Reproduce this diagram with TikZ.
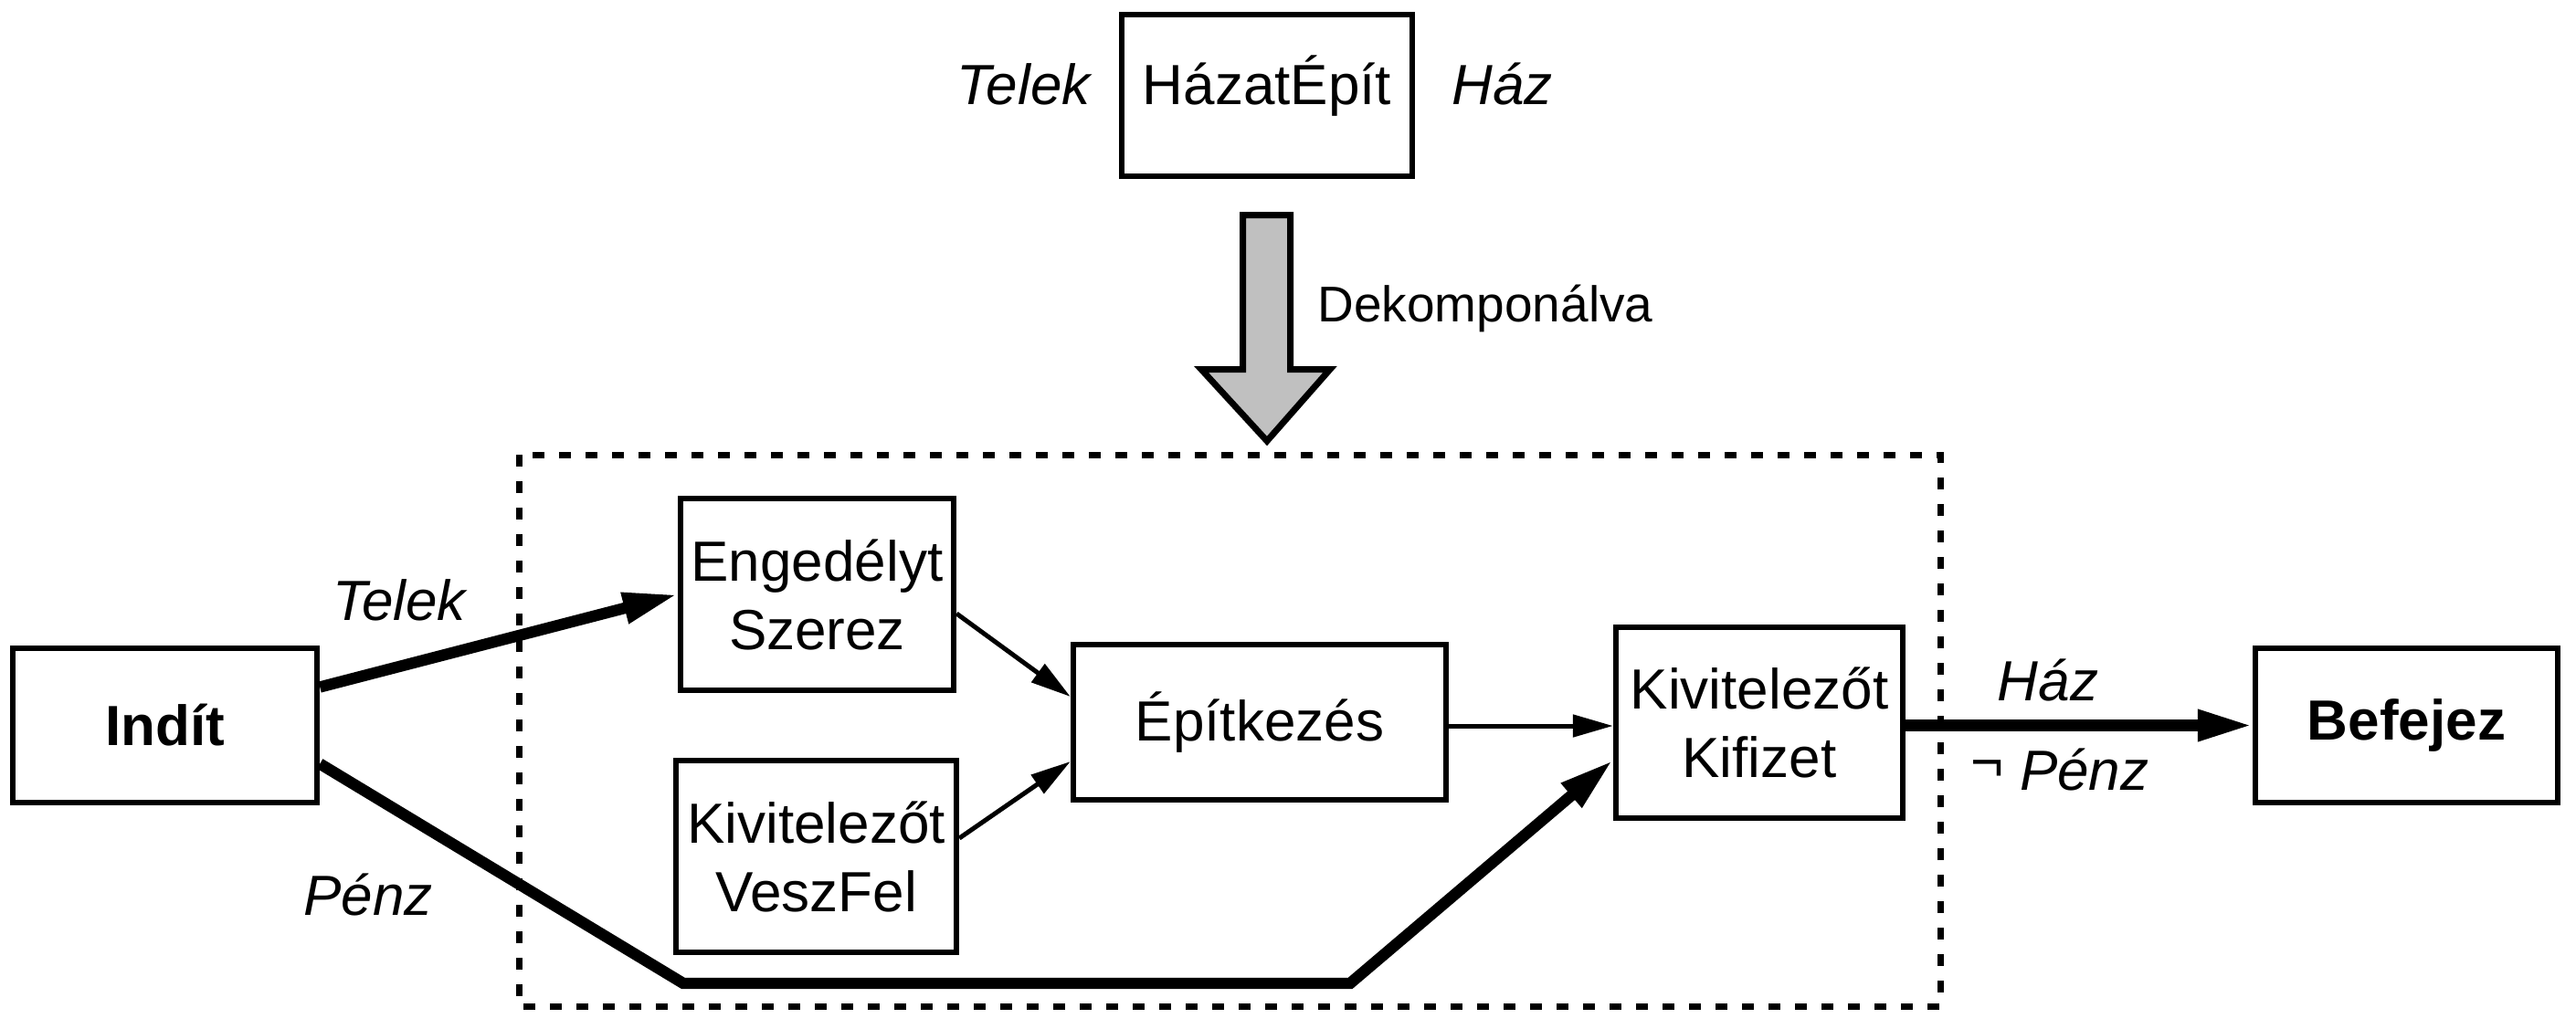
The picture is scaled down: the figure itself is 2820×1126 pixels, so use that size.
\documentclass[tikz,border=0pt]{standalone}
\usepackage{fontspec}
\setmainfont{Liberation Sans}
\usetikzlibrary{arrows.meta,calc}

\newcommand\diagfont{\fontsize{15.5}{18.75}\selectfont}
\definecolor{decompgray}{RGB}{192,192,192}

\tikzset{every picture/.style={line width=1.25pt}}
\tikzset{
  procbox/.style={draw, line width=1.6pt, inner sep=0pt, align=center, font=\diagfont},
  thinflow/.style={line width=1.25pt, -{Triangle[length=11pt,width=6pt]}},
  thickflow/.style={line width=3.1pt, -{Triangle[length=15pt,width=8pt]}},
  flowlabel/.style={font=\diagfont\itshape, anchor=base, inner sep=0pt},
}

\begin{document}
\begin{tikzpicture}[x=0.25pt,y=0.25pt,yscale=-1,xscale=1]
\useasboundingbox (0,0) rectangle (2820,1126);

%Shape: Top task
\node[procbox, minimum width=79.5pt, text height=24.5pt, text depth=19.75pt, anchor=base] (hazatepit) at (1387,114) {HázatÉpít};
% Text Node
\node[flowlabel, anchor=base east] (telekin) at (1196,114) {Telek};
% Text Node
\node[flowlabel, anchor=base west] (hazout) at (1587,114) {Ház};

%Shape: Decomposition arrow
\draw[line width=1.75pt, fill=decompgray] (1360.5,235.5) -- (1412.5,235.5) -- (1412.5,404.5) -- (1456,404.5) -- (1387,483) -- (1315,404.5) -- (1360.5,404.5) -- cycle;
% Text Node
\node[anchor=base west, inner sep=0pt, font=\fontsize{13.75}{16.5}\selectfont] (dekomp) at (1440,352) {Dekomponálva};

%Shape: Dashed frame
\draw[line width=1.75pt, dash pattern=on 3.25pt off 4pt] (568,498) rectangle (2124,1102);

%Shape: Steps
\node[procbox, font=\diagfont\bfseries, minimum width=83.25pt, minimum height=42.25pt] (indit) at (180.5,794.5) {Indít};
\node[procbox, minimum width=74.75pt, minimum height=52.5pt] (engedely) at (894.5,651) {Engedélyt\\Szerez};
\node[procbox, minimum width=76.75pt, minimum height=52.5pt] (veszfel) at (893.5,938) {Kivitelezőt\\VeszFel};
\node[procbox, minimum width=102pt, minimum height=42.5pt] (epit) at (1379,791) {Építkezés};
\node[procbox, minimum width=78.5pt, minimum height=52.25pt] (kifizet) at (1926,791.5) {Kivitelezőt\\Kifizet};
\node[procbox, font=\diagfont\bfseries, minimum width=82.75pt, minimum height=42.25pt] (befejez) at (2634.5,794.5) {Befejez};

%Lines
\coordinate (penzA) at (748,1077);
\coordinate (penzB) at (1478,1077);
\draw[thickflow] ($(indit.east)+(0,-42)$) -- (engedely.west);
\draw[thickflow] ($(indit.east)+(0,42)$) -- (penzA) -- (penzB) -- ($(kifizet.west)+(0,41)$);
\draw[thinflow] ($(engedely.east)+(0,21)$) -- ($(epit.west)+(0,-28)$);
\draw[thinflow] ($(veszfel.east)+(0,-20)$) -- ($(epit.west)+(0,43)$);
\draw[thinflow] ($(epit.east)+(0,4)$) -- ($(epit.east -| kifizet.west)+(0,4)$);
\draw[thickflow] (befejez.west -| kifizet.east) -- (befejez.west);

% Text Node
\node[flowlabel] (telek) at (437,679) {Telek};
% Text Node
\node[flowlabel] (penz) at (403,1002) {Pénz};
% Text Node
\node[flowlabel] (haz) at (2242,767) {Ház};
% Text Node
\node[anchor=base, inner sep=0pt, font=\diagfont] (nempenz) at (2255,865) {\raisebox{2.5pt}{¬} \textit{Pénz}};

\end{tikzpicture}
\end{document}
